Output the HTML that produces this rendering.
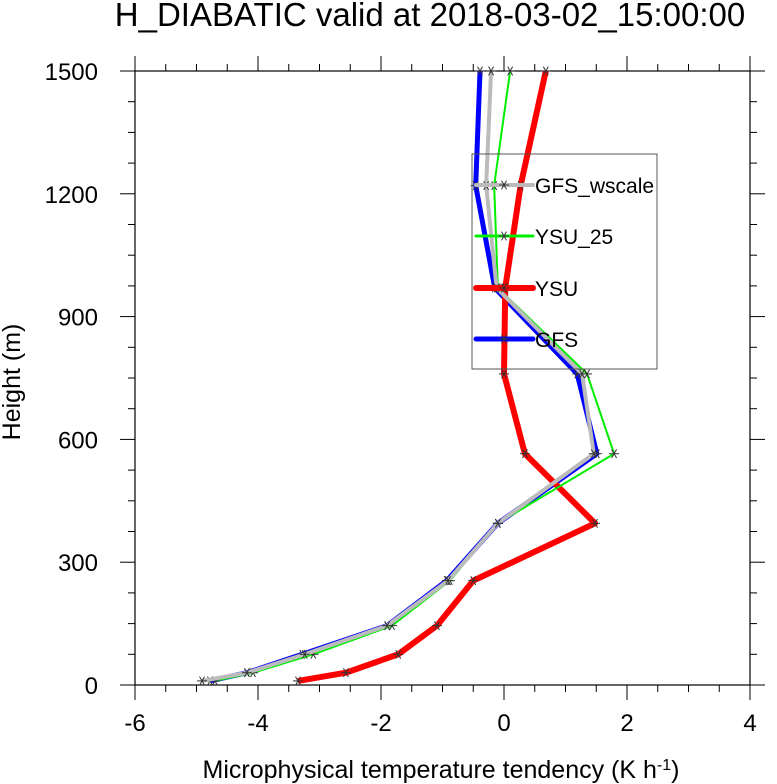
<!DOCTYPE html>
<html><head><meta charset="utf-8"><style>body{margin:0;background:#fff}svg{display:block;font-family:"Liberation Sans",sans-serif}</style></head>
<body>
<svg id="c" width="777" height="784" xmlns="http://www.w3.org/2000/svg">
<text x="430" y="26" font-size="33" text-anchor="middle">H_DIABATIC valid at 2018-03-02_15:00:00</text>
<text x="441" y="778" font-size="25" text-anchor="middle">Microphysical temperature tendency (K h<tspan baseline-shift="super" font-size="16">-1</tspan>)</text>
<text transform="translate(20,382) rotate(-90)" font-size="25" text-anchor="middle">Height (m)</text>
<g id="ax"></g><g id="series"></g><g id="legend"></g>
</svg>
<script>
const heights=[10,30,75,145,255,395,565,760,970,1220,1500];
const gfs=[-4.78,-4.18,-3.28,-1.9,-0.93,-0.1,1.51,1.19,-0.15,-0.46,-0.39];
const ysu=[-3.35,-2.57,-1.72,-1.09,-0.5,1.48,0.34,0.0,0.02,0.27,0.68];
const ysu25=[-4.7,-4.08,-3.1,-1.82,-0.88,-0.1,1.79,1.35,-0.1,-0.16,0.1];
const wscale=[-4.91,-4.18,-3.24,-1.9,-0.91,-0.1,1.46,1.27,-0.12,-0.29,-0.21];
const xTicks=[-6,-4,-2,0,2,4];
const yTicks=[0,300,600,900,1200,1500];
const L=135,R=750,T=71,B=685;
const X=v=>L+(v+6)/10*(R-L), Y=v=>B-v/1500*(B-T);
const NS="http://www.w3.org/2000/svg";
function mk(p,t,a){const e=document.createElementNS(NS,t);for(const k in a)e.setAttribute(k,a[k]);p.appendChild(e);return e;}
const ax=document.getElementById('ax');
const frame=mk(ax,'rect',{x:L,y:T,width:R-L,height:B-T,fill:'none',stroke:'#000','stroke-width':1.2});


for(let v=-6;v<=4.001;v+=0.5){const x=X(v);const maj=Math.abs(v%2)<1e-6;const l=maj?15:7;
mk(ax,'line',{x1:x,x2:x,y1:B,y2:B+l,stroke:'#000','stroke-width':1});
mk(ax,'line',{x1:x,x2:x,y1:T,y2:T-l,stroke:'#000','stroke-width':1});}
for(let v=0;v<=1500;v+=75){const y=Y(v);const maj=v%300===0;const l=maj?15:7;
mk(ax,'line',{x1:L,x2:L-l,y1:y,y2:y,stroke:'#000','stroke-width':1});
mk(ax,'line',{x1:R,x2:R+l,y1:y,y2:y,stroke:'#000','stroke-width':1});}
xTicks.forEach(v=>{const t=mk(ax,'text',{x:X(v),y:B+46,'font-size':24,'text-anchor':'middle'});t.textContent=v;

});
yTicks.forEach(v=>{const t=mk(ax,'text',{x:L-37,y:Y(v)+9,'font-size':24,'text-anchor':'end'});t.textContent=v;

});
function star(g,x,y){for(const a of [0,60,120]){const r=a*Math.PI/180;mk(g,'line',{x1:x-5*Math.cos(r),y1:y-5*Math.sin(r),x2:x+5*Math.cos(r),y2:y+5*Math.sin(r),stroke:'#333','stroke-width':1});}}
const sg=document.getElementById('series');
const defs=[['gfs',gfs,'#0000ff',5],['ysu',ysu,'#ff0000',6],['ysu-25',ysu25,'#00ee00',2],['gfs-wscale',wscale,'#bbbbbb',4]];
defs.forEach(([n,d,c,w])=>{const g=mk(sg,'g',{});


mk(g,'polyline',{points:d.map((v,i)=>X(v)+','+Y(heights[i])).join(' '),fill:'none',stroke:c,'stroke-width':w,'stroke-linejoin':'round'});
d.forEach((v,i)=>star(g,X(v),Y(heights[i])));});
const lg=document.getElementById('legend');
const box=mk(lg,'rect',{x:472,y:154,width:185,height:215,fill:'none',stroke:'#555','stroke-width':1});


[['GFS_wscale','#bbbbbb',4,185],['YSU_25','#00ee00',3,236],['YSU','#ff0000',6,288],['GFS','#0000ff',5,339]].forEach(([n,c,w,y])=>{
const g=mk(lg,'g',{});


mk(g,'line',{x1:476,x2:533,y1:y,y2:y,stroke:c,'stroke-width':w,'stroke-linecap':'round'});
star(g,504,y);
const t=mk(g,'text',{x:535,y:y+8,'font-size':21});t.textContent=n;});
</script>
</body></html>
